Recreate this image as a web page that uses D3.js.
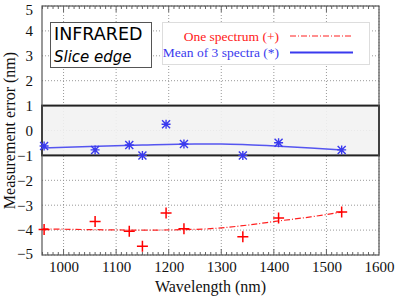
<!DOCTYPE html>
<html>
<head>
<meta charset="utf-8">
<script src="https://cdn.jsdelivr.net/npm/d3@7"></script>
<style>
body { margin: 0; background: #fff; }
svg { display: block; }
</style>
</head>
<body>
<svg width="399" height="298"></svg>
<script>
// measured points
const wavelengths = [963, 1060, 1125, 1150, 1195, 1229, 1341, 1409, 1529];
const oneSpectrum = [-3.98, -3.65, -4.05, -4.65, -3.31, -3.95, -4.27, -3.51, -3.27];
const meanSpectra = [-0.62, -0.78, -0.58, -1.0, 0.25, -0.54, -1.0, -0.49, -0.78];

// fitted trend lines
const fitX = [960, 1050, 1150, 1250, 1300, 1350, 1410, 1470, 1530];
const fitOne = [-3.95, -3.98, -4.0, -3.97, -3.91, -3.8, -3.63, -3.47, -3.27];
const fitMean = [-0.7, -0.64, -0.58, -0.54, -0.54, -0.57, -0.63, -0.7, -0.78];

const xTicks = [1000, 1100, 1200, 1300, 1400, 1500, 1600];
const yTicks = [-5, -4, -3, -2, -1, 0, 1, 2, 3, 4, 5];
const band = [-1, 1];

const SERIF = "'Liberation Serif', 'Times New Roman', serif",
    SANS = "'DejaVu Sans', sans-serif";

const svg = d3.select("svg"),
    margin = {top: 6, right: 20, bottom: 43, left: 42},
    width = 399 - margin.left - margin.right,
    height = 298 - margin.top - margin.bottom;

const x = d3.scaleLinear().domain([959, 1600]).range([0, width]),
    y = d3.scaleLinear().domain([-5, 5]).range([height, 0]);

const g = svg.append("g").attr("transform", "translate(" + margin.left + "," + margin.top + ")");

// grid
g.append("g").selectAll("line").data(xTicks).enter().append("line")
    .attr("x1", d => x(d)).attr("x2", d => x(d))
    .attr("y1", 0).attr("y2", height)
    .attr("stroke", "#999").attr("stroke-dasharray", "1,2");
g.append("g").selectAll("line").data(yTicks).enter().append("line")
    .attr("x1", 0).attr("x2", width)
    .attr("y1", d => y(d)).attr("y2", d => y(d))
    .attr("stroke", "#999").attr("stroke-dasharray", "1,2");

// shaded tolerance band
g.append("rect")
    .attr("x", 0).attr("width", width)
    .attr("y", y(band[1])).attr("height", y(band[0]) - y(band[1]))
    .attr("fill", "#f2f2f2").attr("fill-opacity", 0.9)
    .attr("stroke", "#222").attr("stroke-width", 2);

// minor ticks
const minor = d3.range(960, 1600, 10);
g.append("g").selectAll("line").data(minor).enter().append("line")
    .attr("x1", d => x(d)).attr("x2", d => x(d))
    .attr("y1", height).attr("y2", d => height - (d % 100 === 0 ? 6 : 3))
    .attr("stroke", "#666");
g.append("g").selectAll("line").data(minor).enter().append("line")
    .attr("x1", d => x(d)).attr("x2", d => x(d))
    .attr("y1", 0).attr("y2", d => (d % 100 === 0 ? 6 : 3))
    .attr("stroke", "#666");

// axes
const xAxis = d3.axisBottom(x).tickValues(xTicks).tickSize(0).tickPadding(6).tickFormat(d3.format("d"));
const yAxis = d3.axisLeft(y).tickValues(yTicks).tickSize(0).tickPadding(9);
g.append("g").attr("transform", "translate(0," + height + ")").call(xAxis)
    .call(s => s.select(".domain").remove());
const gy = g.append("g").call(yAxis)
    .call(s => s.select(".domain").remove());
g.selectAll(".tick text")
    .style("font-family", SERIF).style("font-size", "15px").attr("fill", "#111");
// keep the end labels inside the picture
gy.selectAll(".tick text").attr("dy", d => d === 5 ? "0.55em" : d === -5 ? "0.2em" : "0.32em");

// frame
g.append("rect").attr("width", width).attr("height", height)
    .attr("fill", "none").attr("stroke", "#555").attr("stroke-width", 1.2);

// fit lines
const line = d3.line().curve(d3.curveMonotoneX);
g.append("path")
    .datum(fitX.map((d, i) => [x(d), y(fitOne[i])]))
    .attr("d", line)
    .attr("fill", "none").attr("stroke", "#ff2020").attr("stroke-width", 1.2)
    .attr("stroke-dasharray", "6,2,1,2");
g.append("path")
    .datum(fitX.map((d, i) => [x(d), y(fitMean[i])]))
    .attr("d", line)
    .attr("fill", "none").attr("stroke", "#5555f0").attr("stroke-width", 1.5);

// + markers
g.append("g").selectAll("path").data(wavelengths).enter().append("path")
    .attr("transform", (d, i) => "translate(" + x(d) + "," + y(oneSpectrum[i]) + ")")
    .attr("d", "M-5.5,0H5.5M0,-5.5V5.5")
    .attr("stroke", "#ff0000").attr("stroke-width", 1.5);

// * markers
g.append("g").selectAll("path").data(wavelengths).enter().append("path")
    .attr("transform", (d, i) => "translate(" + x(d) + "," + y(meanSpectra[i]) + ")")
    .attr("d", "M-4,-4L4,4M-4,4L4,-4M0,-4.5V4.5M-4.5,0H4.5")
    .attr("stroke", "#3a3aee").attr("stroke-width", 1.4);

// info box
svg.append("rect").attr("x", 50.5).attr("y", 22.5).attr("width", 101).attr("height", 45)
    .attr("fill", "#fff").attr("stroke", "#555");
svg.append("text").attr("x", 54).attr("y", 40)
    .style("font-family", SANS).style("font-size", "17.5px").attr("fill", "#000")
    .text("INFRARED");
svg.append("text").attr("x", 54).attr("y", 62)
    .style("font-family", SANS).style("font-size", "15px").style("font-style", "italic").attr("fill", "#000")
    .text("Slice edge");

// legend
svg.append("rect").attr("x", 162.5).attr("y", 22.5).attr("width", 207).attr("height", 42)
    .attr("fill", "#fff").attr("stroke", "#ddd");
const legend = [
  {label: "One spectrum (+)", color: "#ff2020", dash: "6,2,1,2", width: 1.2},
  {label: "Mean of 3 spectra (*)", color: "#3a3aee", dash: null, width: 2}
];
legend.forEach((d, i) => {
  const yy = 36 + i * 16.5;
  svg.append("text").attr("x", 279).attr("y", yy + 4.5).attr("text-anchor", "end")
    .style("font-family", SERIF).style("font-size", "13.5px").attr("fill", d.color)
    .text(d.label);
  svg.append("line").attr("x1", 290).attr("x2", 353).attr("y1", yy).attr("y2", yy)
    .attr("stroke", d.color).attr("stroke-width", d.width).attr("stroke-dasharray", d.dash);
});

// axis titles
svg.append("text").attr("x", margin.left + width / 2).attr("y", 292).attr("text-anchor", "middle")
    .style("font-family", SERIF).style("font-size", "16px").attr("fill", "#111")
    .text("Wavelength (nm)");
svg.append("text").attr("transform", "translate(15," + (margin.top + height / 2) + ") rotate(-90)")
    .attr("text-anchor", "middle")
    .style("font-family", SERIF).style("font-size", "16px").attr("fill", "#111")
    .text("Measurement error (nm)");
</script>
</body>
</html>
